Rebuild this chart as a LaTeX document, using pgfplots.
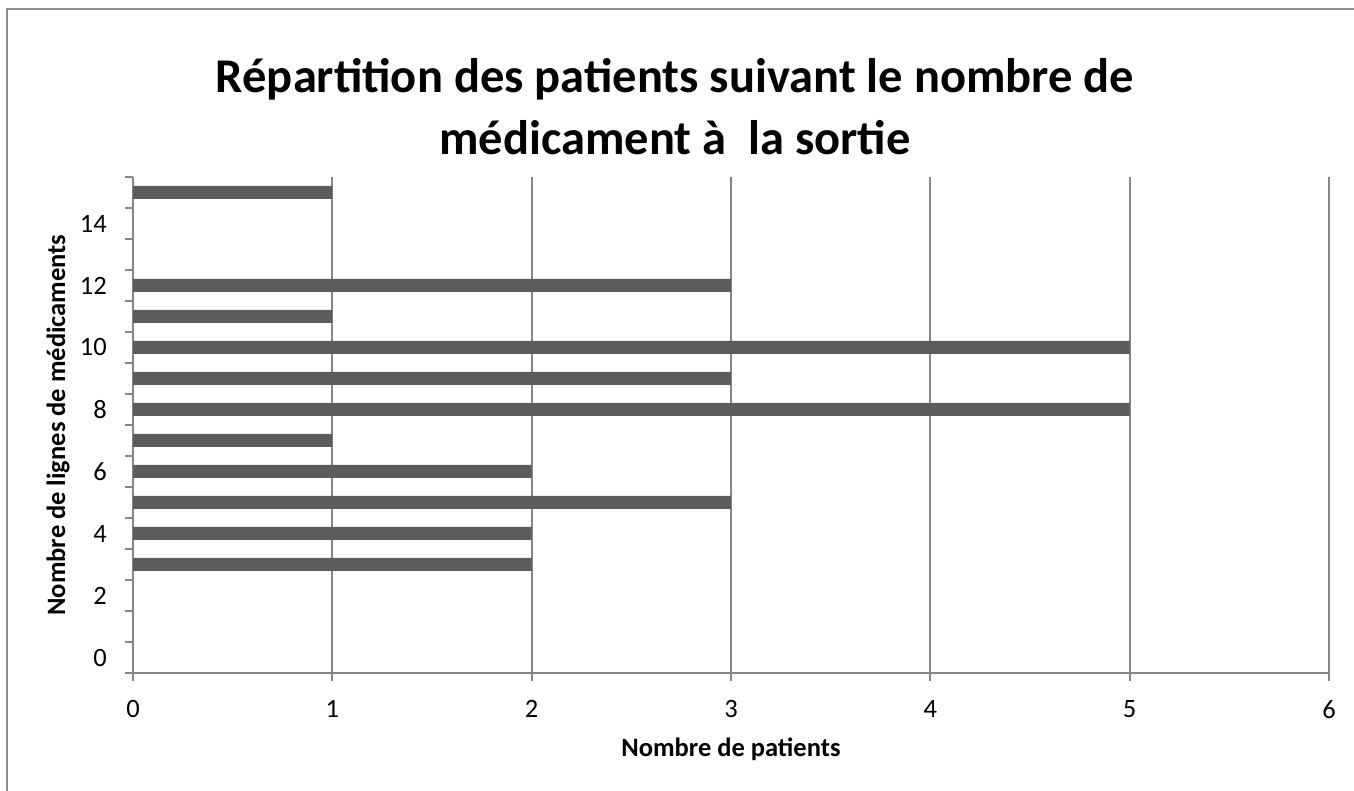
\documentclass[border=0pt]{standalone}
\usepackage{pgfplots}
\pgfplotsset{compat=1.18}
\usepackage{fontspec}
\setmainfont{Carlito}
\definecolor{axgray}{RGB}{134,134,134}
\definecolor{bordergray}{RGB}{140,140,140}
\definecolor{bargray}{RGB}{92,92,92}
\begin{document}
\begin{tikzpicture}[x=1pt,y=1pt]
\path[use as bounding box] (0,0) rectangle (1354,791);
\draw[bordergray, line width=2.4pt] (7,-5) -- (7,782) -- (1360,782);
\node[anchor=base, font=\fontsize{48.5}{58}\selectfont\bfseries] at (675,698) {Répartition des patients suivant le nombre de};
\node[anchor=base, font=\fontsize{48.5}{58}\selectfont\bfseries] at (675,636) {médicament à\ \ la sortie};
\begin{axis}[
  at={(133pt,118pt)}, anchor=south west,
  scale only axis, width=1196pt, height=496pt,
  xmin=0, xmax=6, ymin=-0.5, ymax=15.5,
  xbar, bar width=13pt,
  axis x line*=bottom, axis y line*=left,
  x axis line style={-}, y axis line style={-},
  axis line style={axgray, line width=2.2pt},
  every tick/.style={axgray, line width=2pt},
  tick align=outside,
  major tick length=8pt,
  xtick={0,...,6},
  xmajorgrids, major grid style={axgray, line width=2pt},
  ytick={-0.5,0.5,...,15.5}, yticklabels={},
  extra y ticks={0,2,...,14},
  extra y tick labels={0,2,4,6,8,10,12,14},
  extra y tick style={major tick length=0pt, grid=none},
  /pgf/number format/assume math mode=true,
  ticklabel style={font=\fontsize{26.5}{30}\selectfont, text=black},
  xticklabel style={anchor=north, inner sep=0pt, yshift=-19pt},
  yticklabel style={anchor=east, inner sep=0pt, xshift=-26pt},
  xlabel={Nombre de patients},
  ylabel={Nombre de lignes de médicaments},
  xlabel style={font=\fontsize{26.5}{30}\selectfont\bfseries, at={(axis description cs:0.5,-0.16935)}, anchor=base},
  ylabel style={font=\fontsize{26.5}{30}\selectfont\bfseries, at={(axis description cs:-0.05686,0.5)}, anchor=base},
]
\addplot[fill=bargray, draw=none] coordinates {(2,3) (2,4) (3,5) (2,6) (1,7) (5,8) (3,9) (5,10) (1,11) (3,12) (1,15)};
\end{axis}
\end{tikzpicture}
\end{document}
